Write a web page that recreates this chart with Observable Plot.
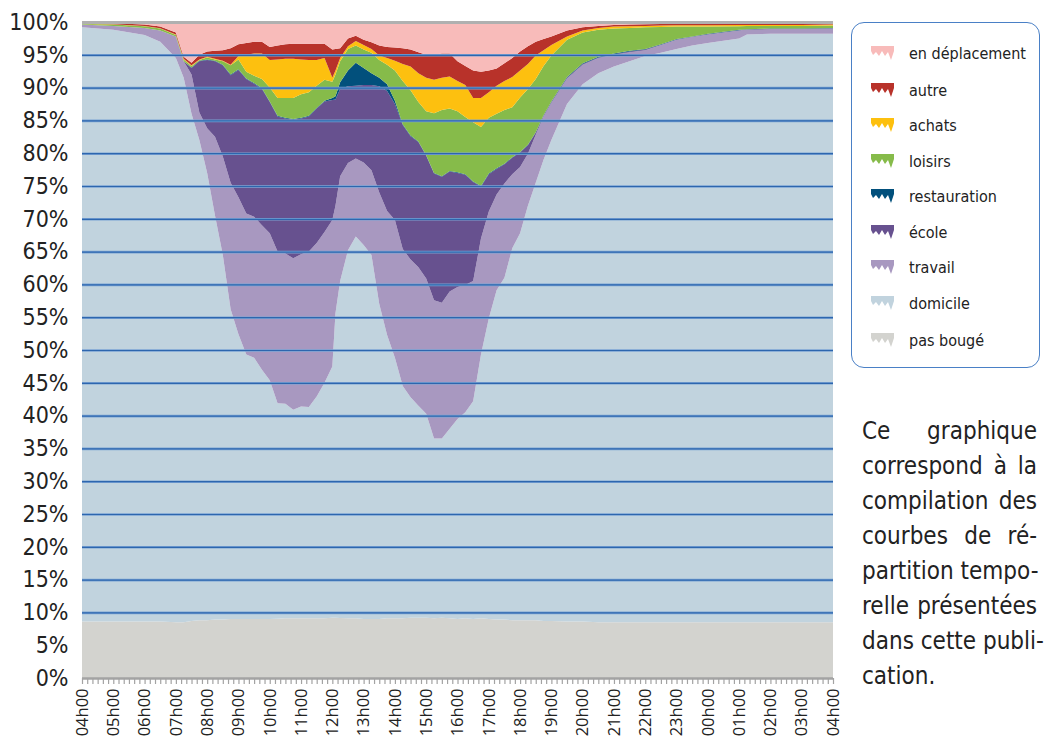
<!DOCTYPE html>
<html>
<head>
<meta charset="utf-8">
<script src="https://cdn.jsdelivr.net/npm/d3@7"></script>
<script src="https://cdn.jsdelivr.net/npm/@observablehq/plot@0.6"></script>
<style>
  html, body { margin: 0; padding: 0; background: #fff; }
  body { width: 1046px; height: 744px; position: relative; overflow: hidden; }
  #chart { position: absolute; left: 0; top: 0; }
  .cond { font-family: "Liberation Sans Narrow", "DejaVu Sans Condensed", "DejaVu Sans", sans-serif; font-stretch: condensed; }
  #legend { position: absolute; left: 851px; top: 22px; width: 187px; height: 344px; border: 1.5px solid #4a80c6; border-radius: 13px; box-sizing: content-box; }
  .item { position: absolute; left: 19px; height: 20px; display: flex; align-items: center; }
  .item svg { width: 23px; height: 14px; margin-right: 15px; }
  .item span { font-size: 16px; color: #222; white-space: nowrap; }
  #caption { position: absolute; left: 862px; top: 414px; width: 175px; font-size: 24px; line-height: 35px; color: #222; }
  #caption div { text-align: justify; text-align-last: justify; white-space: nowrap; }
  #caption div.last { text-align-last: left; }
</style>
</head>
<body>
<div id="chart"></div>
<div id="legend"></div>
<div id="caption" class="cond"></div>
<script>
// ---- data (cumulative percentage at the top of each layer) ----
const hours = [4,5,6,6.5,7,7.25,7.5,7.75,8,8.25,8.5,8.75,9,9.25,9.5,9.75,10,10.25,10.5,10.75,11,11.25,11.5,11.75,12,12.1,12.25,12.5,12.75,13,13.25,13.5,13.75,14,14.25,14.5,14.75,15,15.25,15.5,15.75,16,16.25,16.5,16.75,17,17.25,17.5,17.75,18,18.25,18.5,18.75,19,19.5,20,20.5,21,21.5,22,22.5,23,23.5,24,25,25.25,26,27,28];

const topPasBouge = [8.6,8.6,8.6,8.6,8.5,8.5,8.7,8.8,8.8,8.9,8.9,9.0,9.0,9.0,9.0,9.0,9.0,9.05,9.1,9.1,9.1,9.1,9.1,9.1,9.2,9.2,9.15,9.1,9.1,9.0,9.0,9.0,9.1,9.1,9.1,9.2,9.2,9.2,9.1,9.2,9.1,9.0,9.1,9.0,9.1,9.0,8.9,8.9,8.8,8.8,8.8,8.8,8.7,8.7,8.6,8.6,8.5,8.5,8.5,8.5,8.5,8.5,8.5,8.5,8.5,8.5,8.5,8.5,8.5];

const topDomicile = [99.2,98.8,98.0,97.0,94.5,91.5,86.0,82.0,77.0,70.5,64.5,56.2,52.4,49.3,48.8,47.0,45.4,41.9,41.8,40.9,41.4,41.3,42.9,45.0,47.5,55.6,60.5,65.2,67.3,66.0,64.5,57.0,52.3,48.8,44.5,42.8,41.5,40.3,36.5,36.5,38.0,39.5,40.5,42.2,49.3,54.8,59.1,61.0,65.5,67.8,72.0,75.5,79.0,82.0,87.5,90.5,92.2,93.2,94.0,94.8,95.3,95.9,96.4,96.8,97.5,98.1,98.2,98.2,98.2];

const topTravail = [99.6,99.4,99.1,98.7,97.8,94.0,92.0,86.2,83.8,82.5,79.5,75.5,73.3,70.8,70.3,69.0,67.8,65.0,64.7,64.0,64.6,65.0,66.3,68.0,69.8,72.0,76.5,78.5,79.2,78.6,77.4,74.0,71.2,69.8,65.4,63.8,62.6,60.9,57.6,57.2,58.9,59.6,59.9,60.5,67.0,71.1,73.7,75.4,76.8,77.9,79.9,82.8,85.6,87.7,91.4,93.5,94.5,95.0,95.4,95.7,96.5,97.3,97.7,98.1,98.7,98.8,98.9,98.9,99.0];

const topEcole = [99.6,99.4,99.1,98.7,97.8,94.0,93.0,94.0,94.2,94.0,93.4,91.9,92.7,91.3,90.6,89.8,87.8,85.6,85.3,85.1,85.3,85.6,86.8,87.9,88.1,88.2,89.8,90.2,90.3,90.4,90.4,90.2,89.5,87.5,84.3,82.6,81.7,79.6,76.9,76.4,77.2,77.0,76.7,75.6,74.9,76.8,77.6,78.3,79.3,80.1,81.2,83.1,85.7,87.8,91.5,93.6,94.6,95.1,95.5,95.8,96.55,97.35,97.75,98.15,98.75,98.85,98.95,98.95,99.05];

const topRestauration = [99.6,99.4,99.1,98.7,97.8,94.0,93.05,94.1,94.3,94.1,93.5,92.0,92.8,91.4,90.7,89.9,87.9,85.7,85.4,85.2,85.4,85.7,86.9,88.0,88.4,88.7,90.8,92.6,93.8,93.0,92.2,91.5,90.5,88.0,84.4,82.7,81.8,79.7,77.0,76.5,77.3,77.1,76.8,75.7,75.0,76.9,77.7,78.4,79.4,80.2,81.3,83.2,85.8,87.9,91.6,93.7,94.7,95.2,95.6,95.9,96.6,97.4,97.8,98.2,98.8,98.9,99.0,99.0,99.1];

const topLoisirs = [99.7,99.6,99.35,99.0,98.0,94.3,93.3,94.2,94.6,94.3,94.0,93.4,94.3,92.4,91.8,91.3,90.0,88.4,88.4,88.4,89.0,89.3,90.3,91.2,90.9,92.0,94.0,95.9,96.4,95.8,95.3,94.2,93.5,92.6,91.0,89.6,87.8,86.4,86.1,86.6,86.8,86.4,85.5,84.7,84.0,85.4,86.0,86.6,87.0,88.5,89.8,91.3,93.3,94.9,97.3,98.4,98.8,99.0,99.1,99.2,99.25,99.3,99.3,99.3,99.35,99.4,99.4,99.4,99.45];

const topAchats = [99.75,99.65,99.4,99.05,98.1,94.4,93.4,94.3,94.7,94.4,94.1,93.5,94.8,95.0,95.2,95.2,94.2,94.3,94.4,94.4,94.3,94.2,94.2,94.5,91.5,92.6,94.5,96.3,97.1,96.5,95.9,94.9,94.5,94.1,93.6,93.2,92.2,91.5,91.2,91.5,91.7,91.0,90.4,88.4,88.4,89.3,90.3,91.0,91.6,92.6,93.6,94.9,95.7,96.5,97.8,98.7,99.1,99.3,99.35,99.4,99.45,99.5,99.5,99.5,99.55,99.55,99.55,99.55,99.6];

const topAutre = [99.85,99.8,99.6,99.3,98.4,94.7,93.8,95.0,95.5,95.6,95.7,96.0,96.6,96.8,97.0,97.0,96.2,96.4,96.6,96.7,96.7,96.7,96.7,96.7,95.8,95.9,96.0,97.5,97.9,97.3,96.9,96.4,96.2,96.1,96.0,95.8,95.4,95.0,95.0,95.2,95.2,94.0,93.3,92.6,92.4,92.6,92.9,93.7,94.5,95.5,96.3,97.0,97.4,97.8,98.7,99.2,99.4,99.55,99.6,99.65,99.7,99.7,99.7,99.7,99.75,99.75,99.75,99.8,99.8];

const topDeplacement = hours.map(() => 100);

const categories = ["en déplacement","autre","achats","loisirs","restauration","école","travail","domicile","pas bougé"];
const colors = ["#f8bbba","#b8322a","#fdc00f","#86bb4a","#02507c","#67518f","#a898c0","#c1d3de","#d3d3cf"];

const hourTicks = [4,5,6,7,8,9,10,11,12,13,14,15,16,17,18,19,20,21,22,23,24,25,26,27,28];
const hourLabels = ["04h00","05h00","06h00","07h00","08h00","09h00","10h00","11h00","12h00","13h00","14h00","15h00","16h00","17h00","18h00","19h00","20h00","21h00","22h00","23h00","00h00","01h00","02h00","03h00","04h00"];
const yTicks = [0,5,10,15,20,25,30,35,40,45,50,55,60,65,70,75,80,85,90,95,100];
const gridTicks = [10,15,20,25,30,35,40,45,50,55,60,65,70,75,80,85,90,95];
const captionLines = ["Ce graphique","correspond à la","compilation des","courbes de ré-","partition tempo-","relle présentées","dans cette publi-","cation."];

// ---- build table ----
const tops = [topPasBouge, topDomicile, topTravail, topEcole, topRestauration, topLoisirs, topAchats, topAutre, topDeplacement];
const rows = hours.map((t, i) => {
  const r = {t, b0: 0};
  tops.forEach((arr, k) => r["b" + (k + 1)] = arr[i]);
  return r;
});
const bottomUpColors = colors.slice().reverse();

const minorTicks = d3.range(0, 24 * 6 + 1).map(i => 4 + i / 6);

const chart = Plot.plot({
  width: 845, height: 744,
  marginLeft: 82, marginRight: 12, marginTop: 22, marginBottom: 66,
  x: {domain: [4, 28]},
  y: {domain: [0, 100]},
  style: {background: "transparent", color: "#222"},
  marks: [
    ...bottomUpColors.map((c, k) => Plot.areaY(rows, {x: "t", y1: "b" + k, y2: "b" + (k + 1), fill: c})),
    Plot.ruleY(gridTicks, {stroke: "#7aa3d4", strokeWidth: 2.6}),
    Plot.ruleY(gridTicks, {stroke: "#2d66ae", strokeWidth: 1.2}),
    Plot.ruleY([100], {stroke: "#b0b0b0", strokeWidth: 3}),
    Plot.ruleY([0], {stroke: "#a3a3a3", strokeWidth: 2.5}),
    Plot.axisX(minorTicks, {tickSize: 6, stroke: "#a3a3a3", strokeWidth: 1.2, tickFormat: () => "", label: null}),
    Plot.axisX(hourTicks, {tickSize: 0, tickRotate: -90, tickPadding: 10, fontSize: 16.5, fontFamily: "'Open Sans', sans-serif",
      tickFormat: d => hourLabels[hourTicks.indexOf(d)], label: null}),
    Plot.axisY(yTicks, {tickSize: 0, tickPadding: 14, fontSize: 23, fontFamily: "'Liberation Sans Narrow', 'DejaVu Sans Condensed', sans-serif",
      tickFormat: d => d + "%", label: null})
  ]
});
document.getElementById("chart").appendChild(chart);

// ---- legend ----
const legend = document.getElementById("legend");
const rowY = [20, 57, 92, 128, 163, 199, 234, 270, 307];
categories.forEach((name, i) => {
  const d = document.createElement("div");
  d.className = "item";
  d.style.top = rowY[i] + "px";
  d.innerHTML = `<svg viewBox="0 0 23 14"><polygon points="0,0 23,0 23,5 20,14 17,6 14,10 11,5 8,10 5,6 2,9 0,5" fill="${colors[i]}"/></svg><span class="cond">${name}</span>`;
  legend.appendChild(d);
});

// ---- caption ----
const cap = document.getElementById("caption");
captionLines.forEach((line, i) => {
  const d = document.createElement("div");
  d.textContent = line;
  if (i === captionLines.length - 1) d.className = "last";
  cap.appendChild(d);
});
</script>
</body>
</html>
